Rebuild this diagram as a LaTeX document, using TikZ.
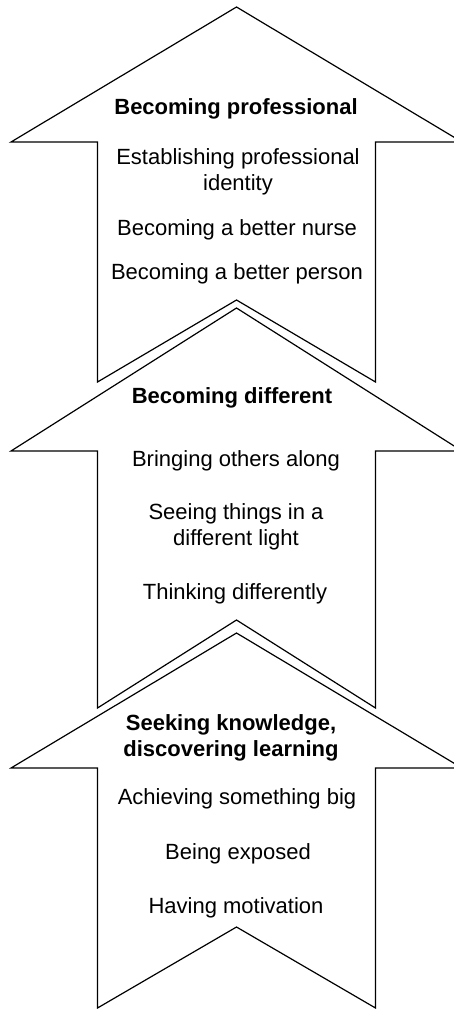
\documentclass[tikz,border=0pt]{standalone}
\usepackage{fontspec}
\setmainfont{Liberation Sans}
\begin{document}
\begin{tikzpicture}[x=1pt,y=-1pt,line width=1.2pt]
\tikzstyle{every node}+=[inner sep=0pt,align=center,font=\fontsize{22}{26}\selectfont]
\useasboundingbox (0,0) rectangle (453,1009);
\draw [black] (236.5,7) -- (11,142) -- (97.5,142) -- (97.5,382) -- (236.5,300) -- (375.5,382) -- (375.5,142) -- (462,142) -- cycle;
\draw (236,109) node (bprof) {\textbf{Becoming professional}};
\draw (238,172) node (estab) {Establishing professional\\identity};
\draw (237,230) node (bnurse) {Becoming a better nurse};
\draw (237,274) node (bperson) {Becoming a better person};
\draw [black] (236.5,308) -- (11,451) -- (97.5,451) -- (97.5,708) -- (236.5,620) -- (375.5,708) -- (375.5,451) -- (462,451) -- cycle;
\draw (232,398) node (bdiff) {\textbf{Becoming different}};
\draw (236,461) node (bring) {Bringing others along};
\draw (236,527) node (seeing) {Seeing things in a\\different light};
\draw (235,594) node (think) {Thinking differently};
\draw [black] (236.5,633) -- (11,768) -- (97.5,768) -- (97.5,1008) -- (236.5,927) -- (375.5,1008) -- (375.5,768) -- (462,768) -- cycle;
\draw (231,738) node (seek) {\textbf{Seeking knowledge,}\\\textbf{discovering learning}};
\draw (237,799) node (achieve) {Achieving something big};
\draw (238,854) node (exposed) {Being exposed};
\draw (236,908) node (motiv) {Having motivation};
\end{tikzpicture}
\end{document}
